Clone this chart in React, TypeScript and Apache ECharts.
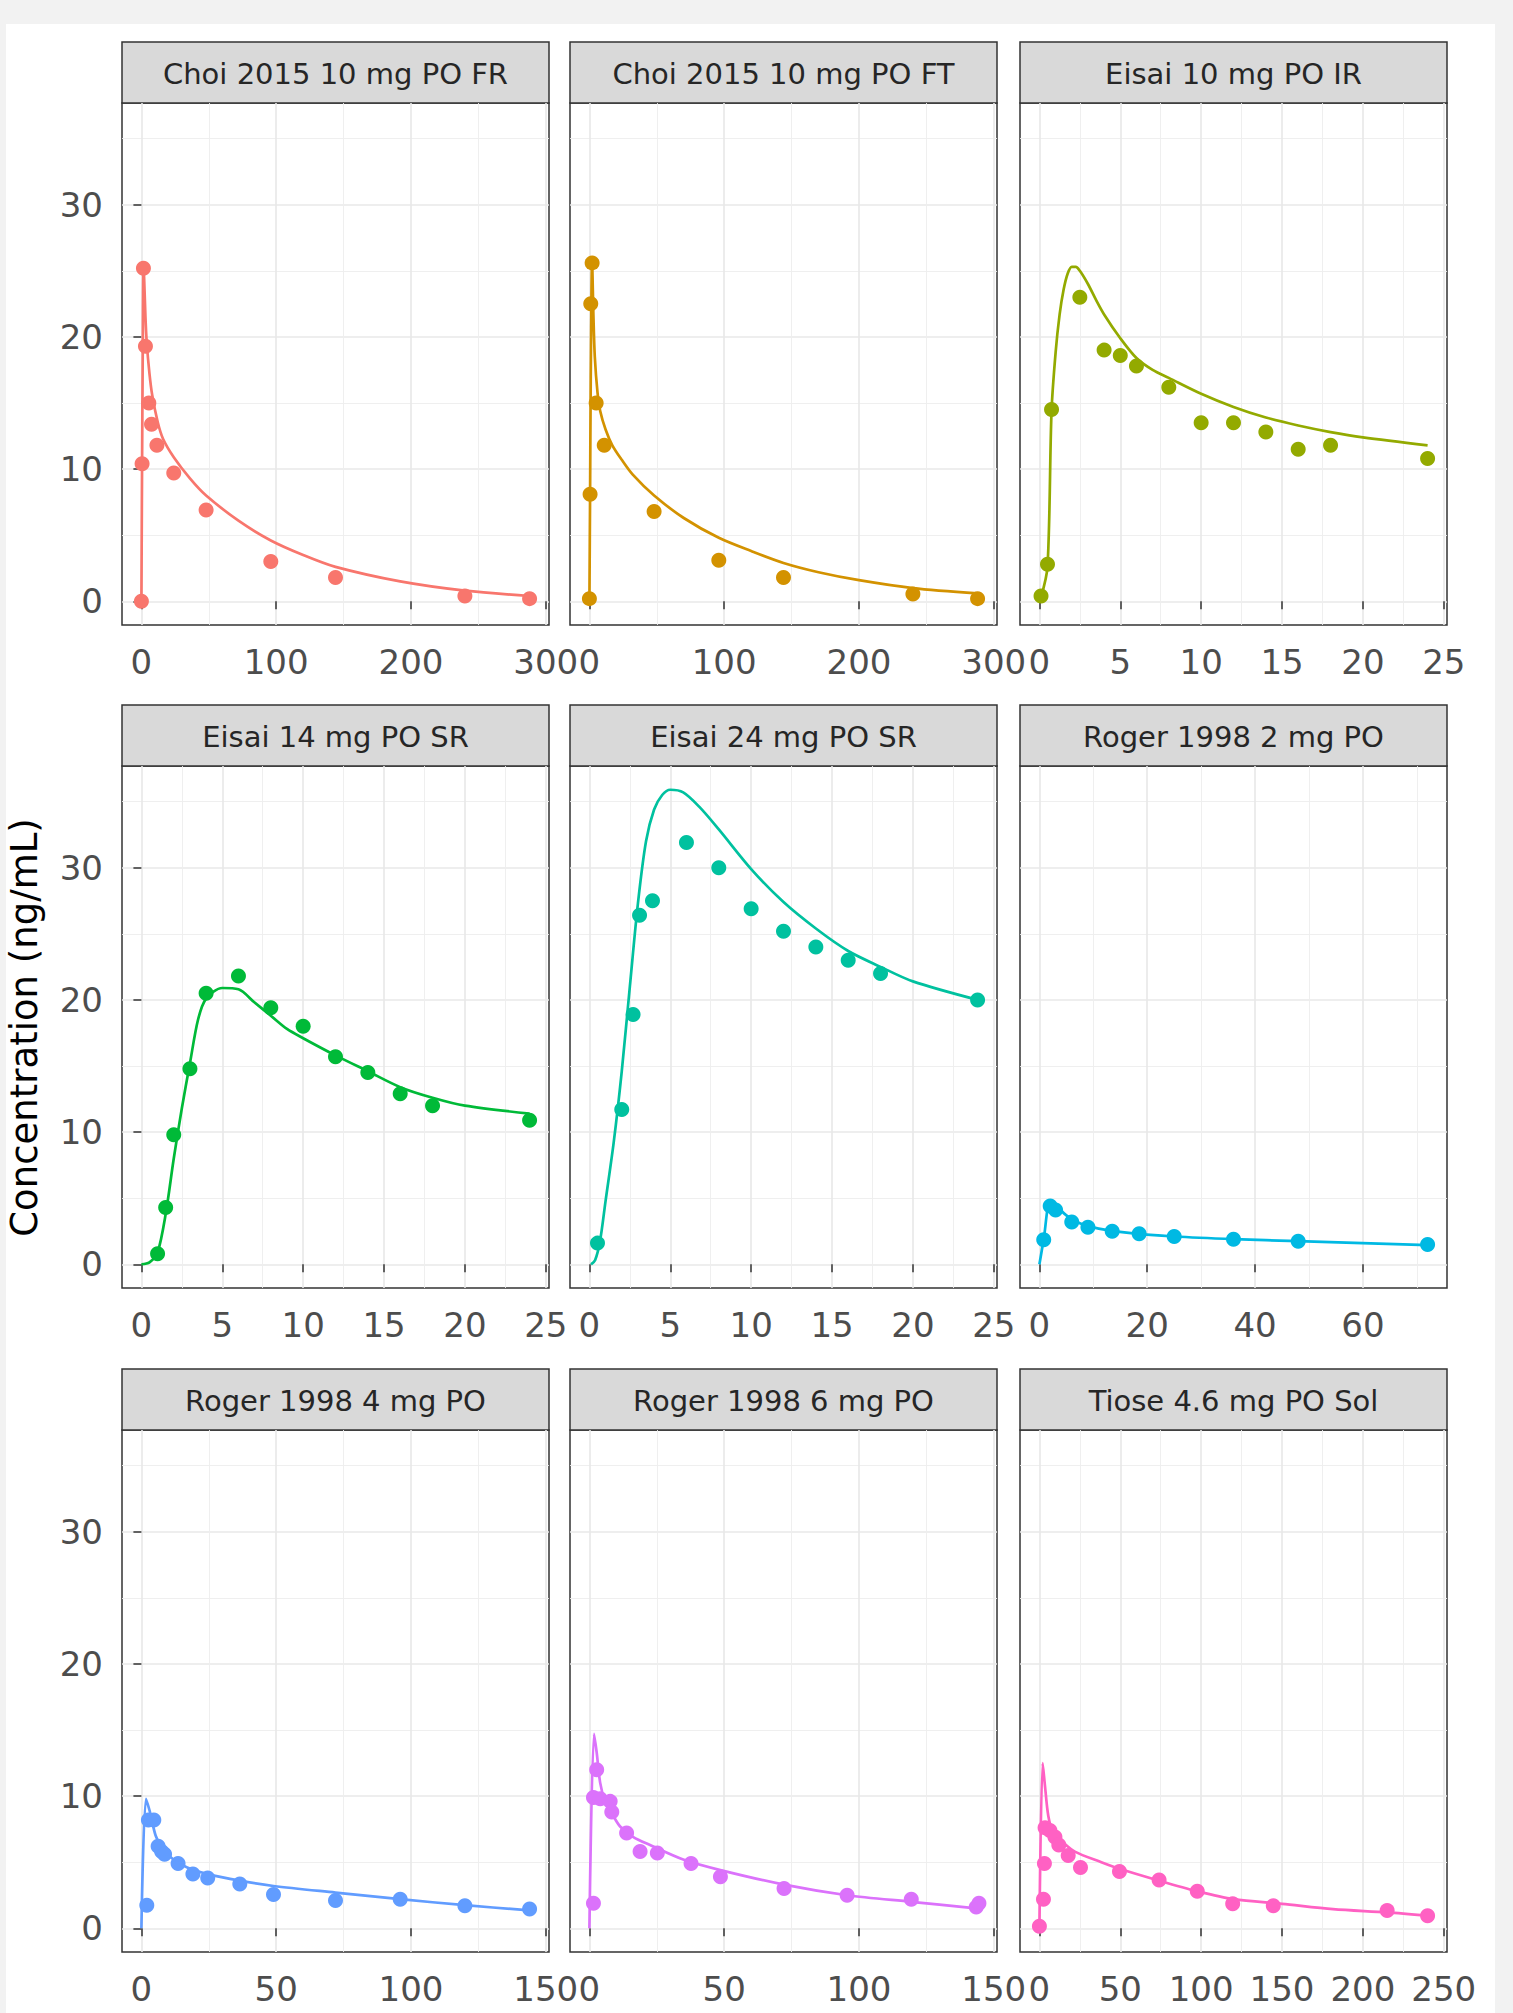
import React, { useEffect, useRef } from "react";
import * as echarts from "echarts";

// ---------- data ----------
const panelTitles = [
  "Choi 2015 10 mg PO FR",
  "Choi 2015 10 mg PO FT",
  "Eisai 10 mg PO IR",
  "Eisai 14 mg PO SR",
  "Eisai 24 mg PO SR",
  "Roger 1998 2 mg PO",
  "Roger 1998 4 mg PO",
  "Roger 1998 6 mg PO",
  "Tiose 4.6 mg PO Sol",
];
const panelColors = ["#F8766D", "#D39200", "#93AA00", "#00BA38", "#00C19F", "#00B9E3", "#619CFF", "#DB72FB", "#FF61C3"];

const xDataMax = [288, 288, 24, 24, 24, 72, 144, 144, 240];
const xMajorTicks = [
  [0, 100, 200, 300],
  [0, 100, 200, 300],
  [0, 5, 10, 15, 20, 25],
  [0, 5, 10, 15, 20, 25],
  [0, 5, 10, 15, 20, 25],
  [0, 20, 40, 60],
  [0, 50, 100, 150],
  [0, 50, 100, 150],
  [0, 50, 100, 150, 200, 250],
];
const yMajorTicks = [0, 10, 20, 30];
const yDataMax = 35.9;
const yTitle = "Concentration (ng/mL)";

// observed points
const obsT_ChoiFR = [0, 0.5, 1.5, 3, 5.5, 7.5, 11.5, 24, 48, 96, 144, 240, 288];
const obsC_ChoiFR = [0, 10.4, 25.2, 19.3, 15.0, 13.4, 11.8, 9.7, 6.9, 3.0, 1.8, 0.4, 0.2];
const obsT_ChoiFT = [0, 0.5, 1, 2, 5, 11, 48, 96, 144, 240, 288];
const obsC_ChoiFT = [0.2, 8.1, 22.5, 25.6, 15.0, 11.8, 6.8, 3.1, 1.8, 0.55, 0.2];
const obsT_Eisai10 = [0.1, 0.5, 0.75, 2.5, 4, 5, 6, 8, 10, 12, 14, 16, 18, 24];
const obsC_Eisai10 = [0.4, 2.8, 14.5, 23.0, 19.0, 18.6, 17.8, 16.2, 13.5, 13.5, 12.8, 11.5, 11.8, 10.8];
const obsT_Eisai14 = [1, 1.5, 2, 3, 4, 6, 8, 10, 12, 14, 16, 18, 24];
const obsC_Eisai14 = [0.8, 4.3, 9.8, 14.8, 20.5, 21.8, 19.4, 18.0, 15.7, 14.5, 12.9, 12.0, 10.9];
const obsT_Eisai24 = [0.5, 2, 2.7, 3.1, 3.9, 6, 8, 10, 12, 14, 16, 18, 24];
const obsC_Eisai24 = [1.6, 11.7, 18.9, 26.4, 27.5, 31.9, 30.0, 26.9, 25.2, 24.0, 23.0, 22.0, 20.0];
const obsT_Roger2 = [0.8, 2, 3, 6, 9, 13.5, 18.5, 25, 36, 48, 72];
const obsC_Roger2 = [1.85, 4.4, 4.1, 3.2, 2.8, 2.5, 2.3, 2.1, 1.9, 1.75, 1.5];
const obsT_Roger4 = [2, 2.6, 4.6, 6.2, 7.5, 8.6, 13.6, 19.1, 24.6, 36.5, 49, 72, 96, 120, 144];
const obsC_Roger4 = [1.75, 8.2, 8.2, 6.2, 5.8, 5.6, 4.9, 4.1, 3.8, 3.35, 2.55, 2.1, 2.2, 1.7, 1.45];
const obsT_Roger6 = [1.5, 1.5, 2.7, 4, 7.7, 8.3, 13.8, 18.8, 25.2, 37.7, 48.6, 72.2, 95.6, 119.4, 143.5, 144.5];
const obsC_Roger6 = [1.9, 9.9, 12.0, 9.8, 9.6, 8.8, 7.2, 5.8, 5.7, 4.9, 3.9, 3.0, 2.5, 2.2, 1.6, 1.9];
const obsT_Tiose = [0, 2.5, 3.1, 3.5, 6.5, 9.6, 12, 17.8, 25.4, 49.5, 74, 97.6, 119.5, 144.6, 215, 240];
const obsC_Tiose = [0.15, 2.2, 4.9, 7.6, 7.4, 6.9, 6.3, 5.5, 4.6, 4.3, 3.65, 2.8, 1.85, 1.7, 1.35, 0.95];

// predicted curves
const predT_ChoiFR = [0, 0.5, 1, 1.5, 2, 3, 4, 6, 8, 12, 16, 24, 36, 48, 72, 96, 120, 144, 192, 240, 288];
const predC_ChoiFR = [0, 10.5, 19, 25.3, 24.5, 21.5, 19.5, 17.2, 15.6, 13.6, 12.3, 10.9, 9.3, 8.0, 6.1, 4.6, 3.5, 2.6, 1.5, 0.8, 0.4];
const predT_ChoiFT = [0, 0.5, 1, 2, 3, 4, 6, 8, 12, 17, 24, 32, 48, 70, 96, 120, 144, 170, 200, 240, 288];
const predC_ChoiFT = [0, 8, 17, 25.6, 21.5, 18.5, 15.8, 14.4, 13.0, 11.8, 10.7, 9.6, 8.0, 6.3, 4.8, 3.8, 2.9, 2.2, 1.6, 1.0, 0.6];
const predT_Eisai10 = [0.1, 0.5, 0.75, 1, 1.25, 1.5, 1.75, 2, 2.25, 2.5, 3, 3.5, 4, 5, 6, 7, 8, 10, 12, 14, 16, 18, 20, 24];
const predC_Eisai10 = [0.3, 2.6, 14.4, 18.8, 21.7, 23.6, 24.8, 25.3, 25.3, 25.0, 24.0, 22.8, 21.7, 19.9, 18.4, 17.5, 16.9, 15.7, 14.7, 13.9, 13.3, 12.8, 12.4, 11.8];
const predT_Eisai14 = [0, 0.5, 1, 1.5, 2, 2.5, 3, 3.5, 4, 5, 6, 7, 8, 9, 10, 12, 14, 16, 18, 20, 24];
const predC_Eisai14 = [0, 0.15, 0.9, 3.8, 8.0, 11.8, 15.2, 18.5, 20.1, 20.9, 20.8, 19.8, 18.8, 17.8, 17.1, 15.8, 14.6, 13.4, 12.6, 12.0, 11.4];
const predT_Eisai24 = [0.1, 0.35, 0.65, 1, 1.5, 2, 2.5, 3, 3.5, 4, 4.5, 5, 5.8, 6.8, 8, 10, 12, 14, 16, 18, 20, 24];
const predC_Eisai24 = [0, 0.3, 1.7, 4.8, 9.2, 14.6, 21.0, 27.3, 32.0, 34.4, 35.5, 35.9, 35.7, 34.6, 32.9, 29.9, 27.4, 25.4, 23.7, 22.5, 21.4, 20.0];
const predT_Roger2 = [0, 0.8, 2, 3, 5, 7.5, 11, 17, 25, 36, 48, 72];
const predC_Roger2 = [0, 1.9, 4.8, 4.5, 3.7, 3.1, 2.7, 2.35, 2.1, 1.9, 1.75, 1.45];
const predT_Roger4 = [0, 1.7, 3.3, 5.3, 7.9, 11.9, 17, 24.6, 36.5, 49, 72, 96, 120, 144];
const predC_Roger4 = [0, 9.8, 8.7, 7.0, 6.0, 5.2, 4.6, 4.1, 3.6, 3.2, 2.7, 2.2, 1.75, 1.35];
const predT_Roger6 = [0, 1.7, 2.7, 4, 5.8, 8.3, 11.4, 16.3, 22.5, 34.8, 48.6, 72.2, 95.6, 119.4, 143.5];
const predC_Roger6 = [0, 14.7, 13.3, 11.0, 9.6, 8.7, 7.7, 6.9, 6.3, 5.2, 4.4, 3.3, 2.5, 2.0, 1.5];
const predT_Tiose = [0, 2, 3.5, 5.5, 8.6, 13.7, 21.9, 38.3, 49.5, 74, 97.6, 120, 150, 181.5, 215, 240];
const predC_Tiose = [0, 12.5, 10.7, 8.5, 7.2, 6.6, 5.8, 5.0, 4.5, 3.6, 2.8, 2.2, 1.85, 1.45, 1.2, 0.95];

const obsTimes = [obsT_ChoiFR, obsT_ChoiFT, obsT_Eisai10, obsT_Eisai14, obsT_Eisai24, obsT_Roger2, obsT_Roger4, obsT_Roger6, obsT_Tiose];
const obsConcs = [obsC_ChoiFR, obsC_ChoiFT, obsC_Eisai10, obsC_Eisai14, obsC_Eisai24, obsC_Roger2, obsC_Roger4, obsC_Roger6, obsC_Tiose];
const predTimes = [predT_ChoiFR, predT_ChoiFT, predT_Eisai10, predT_Eisai14, predT_Eisai24, predT_Roger2, predT_Roger4, predT_Roger6, predT_Tiose];
const predConcs = [predC_ChoiFR, predC_ChoiFT, predC_Eisai10, predC_Eisai14, predC_Eisai24, predC_Roger2, predC_Roger4, predC_Roger6, predC_Tiose];

// ---------- layout ----------
const COL_LEFT = [122, 570, 1020];
const ROW_TOP = [103, 766, 1430];
const PANEL_W = 427;
const PANEL_H = 522;
const STRIP_H = 61;
const TICK_FONT = "DejaVu Sans";

function minorBetween(ticks: number[], lo: number, hi: number) {
  const step = ticks[1] - ticks[0];
  const out: number[] = [];
  for (let v = ticks[0] - step / 2; v <= hi + 1e-9; v += step) {
    if (v >= lo) out.push(v);
  }
  return out;
}

function buildOption() {
  const grids: any[] = [];
  const xAxes: any[] = [];
  const yAxes: any[] = [];
  const series: any[] = [];
  const graphics: any[] = [];

  const yMin = -0.05 * yDataMax;
  const yMax = 1.05 * yDataMax;
  const yMinor = minorBetween(yMajorTicks, yMin, yMax);

  panelTitles.forEach((title, i) => {
    const col = i % 3;
    const row = Math.floor(i / 3);
    const left = COL_LEFT[col];
    const top = ROW_TOP[row];
    const xMin = -0.05 * xDataMax[i];
    const xMax = 1.05 * xDataMax[i];
    const majors = xMajorTicks[i];
    const minors = minorBetween(majors, xMin, xMax);

    grids.push({
      left,
      top,
      width: PANEL_W,
      height: PANEL_H,
      show: true,
      backgroundColor: "#FFFFFF",
      borderColor: "#333333",
      borderWidth: 1.5,
      containLabel: false,
    });

    xAxes.push({
      type: "value",
      gridIndex: i,
      min: xMin,
      max: xMax,
      position: "bottom",
      axisLine: { show: false },
      axisTick: { show: true, length: 8, lineStyle: { color: "#333333", width: 1.5 }, customValues: majors },
      axisLabel: {
        customValues: majors,
        margin: 20,
        fontFamily: TICK_FONT,
        fontSize: 34,
        color: "#4D4D4D",
      },
      splitLine: { show: true, lineStyle: { color: "#E8E8E8", width: 1.6 } },
      minorTick: { show: false },
      minorSplitLine: { show: false },
    });
    xAxes.push({
      type: "value",
      gridIndex: i,
      min: xMin,
      max: xMax,
      position: "top",
      axisLine: { show: false },
      axisTick: { show: false, customValues: minors },
      axisLabel: { show: false, customValues: minors },
      splitLine: { show: true, lineStyle: { color: "#EDEDED", width: 0.9 } },
    });

    const showY = col === 0;
    yAxes.push({
      type: "value",
      gridIndex: i,
      min: yMin,
      max: yMax,
      position: "left",
      axisLine: { show: false },
      axisTick: { show: showY, length: 8, lineStyle: { color: "#333333", width: 1.5 }, customValues: yMajorTicks },
      axisLabel: {
        show: showY,
        customValues: yMajorTicks,
        margin: 19,
        fontFamily: TICK_FONT,
        fontSize: 34,
        color: "#4D4D4D",
      },
      splitLine: { show: true, lineStyle: { color: "#E8E8E8", width: 1.6 } },
    });
    yAxes.push({
      type: "value",
      gridIndex: i,
      min: yMin,
      max: yMax,
      position: "right",
      axisLine: { show: false },
      axisTick: { show: false, customValues: yMinor },
      axisLabel: { show: false, customValues: yMinor },
      splitLine: { show: true, lineStyle: { color: "#EDEDED", width: 0.9 } },
    });

    series.push({
      type: "line",
      name: title + " pred",
      xAxisIndex: 2 * i,
      yAxisIndex: 2 * i,
      data: predTimes[i].map((t, k) => [t, predConcs[i][k]]),
      showSymbol: false,
      symbol: "none",
      smooth: 0.3,
      lineStyle: { color: panelColors[i], width: 2.7 },
      silent: true,
      z: 3,
    });
    series.push({
      type: "scatter",
      name: title + " obs",
      xAxisIndex: 2 * i,
      yAxisIndex: 2 * i,
      data: obsTimes[i].map((t, k) => [t, obsConcs[i][k]]),
      symbol: "circle",
      symbolSize: 15,
      itemStyle: { color: panelColors[i], opacity: 1 },
      silent: true,
      z: 4,
    });

    graphics.push({
      type: "rect",
      shape: { x: left, y: top - STRIP_H, width: PANEL_W, height: STRIP_H },
      style: { fill: "#D9D9D9", stroke: "#333333", lineWidth: 1.5 },
      silent: true,
    });
    graphics.push({
      type: "text",
      x: left + PANEL_W / 2,
      y: top - STRIP_H / 2 + 1,
      style: {
        text: title,
        fill: "#262626",
        fontFamily: TICK_FONT,
        fontSize: 29,
        align: "center",
        verticalAlign: "middle",
        textAlign: "center",
        textVerticalAlign: "middle",
      },
      silent: true,
    });
  });

  graphics.push({
    type: "text",
    x: 24,
    y: (ROW_TOP[0] + ROW_TOP[2] + PANEL_H) / 2,
    rotation: Math.PI / 2,
    style: {
      text: yTitle,
      fill: "#000000",
      fontFamily: TICK_FONT,
      fontSize: 37,
      align: "center",
      verticalAlign: "middle",
      textAlign: "center",
      textVerticalAlign: "middle",
    },
    silent: true,
  });

  return {
    animation: false,
    backgroundColor: "transparent",
    grid: grids,
    xAxis: xAxes,
    yAxis: yAxes,
    series,
    graphic: { elements: graphics },
  };
}

export default function App() {
  const ref = useRef<HTMLDivElement>(null);
  useEffect(() => {
    document.body.style.margin = "0";
    if (!ref.current) return;
    const chart = echarts.init(ref.current, null, { renderer: "svg" });
    chart.setOption(buildOption() as any);
    return () => chart.dispose();
  }, []);
  return (
    <div style={{ position: "absolute", left: 0, top: 0, width: 1513, height: 2013, background: "#F2F2F2", overflow: "hidden" }}>
      <div style={{ position: "absolute", left: 6, top: 24, width: 1489, height: 1989, background: "#FFFFFF" }} />
      <div ref={ref} style={{ position: "absolute", left: 0, top: 0, width: 1513, height: 2013 }} />
    </div>
  );
}
